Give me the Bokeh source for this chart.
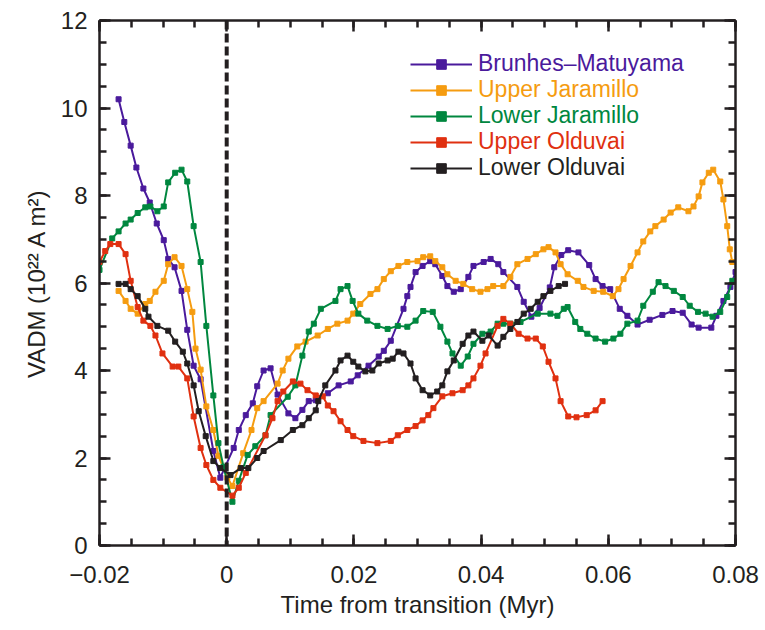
from bokeh.plotting import figure
from bokeh.models import (Span, Legend, LegendItem, LinearAxis, SingleIntervalTicker,
                          CustomJSTickFormatter, Range1d)
from bokeh.embed import file_html
from bokeh.resources import INLINE

# ---------------- data ----------------
series_names = ["Brunhes–Matuyama", "Upper Jaramillo", "Lower Jaramillo", "Upper Olduvai", "Lower Olduvai"]
series_colors = ["#4a1a9c", "#f59c10", "#00873f", "#e03010", "#231f20"]

bm_x = [-0.0170, -0.0161, -0.0151, -0.0142, -0.0131, -0.0121, -0.0110, -0.0099, -0.0092, -0.0082,
        -0.0071, -0.0062, -0.0052, -0.0041, -0.0021, -0.0010, 0.0011, 0.0019, 0.0030, 0.0041,
        0.0048, 0.0058, 0.0069, 0.0080, 0.0097, 0.0108, 0.0119, 0.0129, 0.0140, 0.0159,
        0.0176, 0.0195, 0.0206, 0.0223, 0.0239, 0.0247, 0.0258, 0.0278, 0.0284, 0.0289,
        0.0297, 0.0308, 0.0320, 0.0328, 0.0339, 0.0347, 0.0357, 0.0368, 0.0380, 0.0388,
        0.0404, 0.0415, 0.0427, 0.0435, 0.0457, 0.0467, 0.0479, 0.0492, 0.0508, 0.0515,
        0.0526, 0.0537, 0.0553, 0.0570, 0.0580, 0.0591, 0.0603, 0.0618, 0.0630, 0.0646,
        0.0665, 0.0685, 0.0701, 0.0717, 0.0731, 0.0742, 0.0762, 0.0770, 0.0781, 0.0792, 0.0800]
bm_y = [10.2, 9.68, 9.14, 8.64, 8.16, 7.84, 7.36, 6.98, 6.55, 6.36,
        5.82, 4.93, 4.11, 3.80, 2.16, 1.55, 2.23, 2.64, 2.98, 3.25,
        3.64, 4.00, 4.05, 3.45, 3.02, 2.91, 3.10, 3.30, 3.32, 3.48,
        3.66, 3.75, 3.89, 4.11, 4.32, 4.45, 4.68, 5.41, 5.70, 5.91,
        6.25, 6.39, 6.50, 6.43, 6.16, 5.93, 5.80, 5.86, 6.14, 6.39,
        6.48, 6.55, 6.43, 6.25, 5.91, 5.57, 5.23, 5.43, 5.90, 6.36,
        6.64, 6.75, 6.70, 6.41, 6.09, 5.93, 5.86, 5.41, 5.25, 5.05,
        5.16, 5.27, 5.36, 5.32, 5.05, 4.98, 4.98, 5.25, 5.59, 5.91, 6.25]

uj_x = [-0.0170, -0.0159, -0.0151, -0.0140, -0.0128, -0.0121, -0.0112, -0.0099, -0.0092, -0.0082,
        -0.0071, -0.0062, -0.0054, -0.0049, -0.0041, -0.0032, -0.0021, -0.0013, 0.0001, 0.0009,
        0.0026, 0.0039, 0.0048, 0.0058, 0.0080, 0.0088, 0.0097, 0.0111, 0.0124, 0.0143,
        0.0159, 0.0174, 0.0190, 0.0199, 0.0210, 0.0226, 0.0237, 0.0247, 0.0258, 0.0270,
        0.0284, 0.0300, 0.0309, 0.0320, 0.0328, 0.0339, 0.0347, 0.0360, 0.0372, 0.0386,
        0.0399, 0.0410, 0.0419, 0.0435, 0.0446, 0.0457, 0.0473, 0.0486, 0.0498, 0.0506,
        0.0517, 0.0525, 0.0536, 0.0552, 0.0561, 0.0577, 0.0592, 0.0607, 0.0616, 0.0624,
        0.0635, 0.0646, 0.0655, 0.0666, 0.0674, 0.0687, 0.0698, 0.0710, 0.0726, 0.0734,
        0.0742, 0.0748, 0.0758, 0.0765, 0.0776, 0.0781, 0.0787, 0.0791, 0.0795]
uj_y = [5.82, 5.59, 5.41, 5.30, 5.52, 5.59, 5.80, 6.05, 6.43, 6.59,
        6.39, 5.86, 5.34, 4.50, 4.02, 3.18, 2.64, 2.05, 1.55, 1.36,
        2.11, 2.64, 3.14, 3.30, 3.70, 4.00, 4.27, 4.55, 4.66, 4.80,
        4.95, 5.07, 5.14, 5.30, 5.52, 5.75, 5.86, 6.09, 6.27, 6.39,
        6.48, 6.50, 6.59, 6.61, 6.50, 6.36, 6.20, 6.05, 5.98, 5.86,
        5.80, 5.86, 5.93, 5.93, 6.14, 6.43, 6.55, 6.66, 6.77, 6.82,
        6.70, 6.43, 6.20, 6.05, 5.91, 5.82, 5.80, 5.70, 5.86, 6.09,
        6.39, 6.70, 6.95, 7.18, 7.30, 7.45, 7.61, 7.73, 7.64, 7.75,
        7.98, 8.30, 8.52, 8.59, 8.32, 7.91, 7.30, 6.77, 6.48]

lj_x = [-0.0200, -0.0180, -0.0170, -0.0159, -0.0151, -0.0140, -0.0128, -0.0120, -0.0109, -0.0099,
        -0.0092, -0.0081, -0.0071, -0.0062, -0.0052, -0.0041, -0.0032, -0.0021, -0.0013, -0.0005,
        0.0009, 0.0019, 0.0033, 0.0045, 0.0061, 0.0069, 0.0096, 0.0108, 0.0119, 0.0129,
        0.0137, 0.0148, 0.0171, 0.0179, 0.0190, 0.0198, 0.0207, 0.0221, 0.0237, 0.0253,
        0.0269, 0.0284, 0.0297, 0.0309, 0.0324, 0.0336, 0.0347, 0.0355, 0.0368, 0.0379,
        0.0388, 0.0402, 0.0415, 0.0426, 0.0435, 0.0446, 0.0462, 0.0489, 0.0509, 0.0520,
        0.0530, 0.0536, 0.0548, 0.0556, 0.0567, 0.0580, 0.0595, 0.0608, 0.0619, 0.0630,
        0.0646, 0.0655, 0.0670, 0.0679, 0.0690, 0.0703, 0.0717, 0.0728, 0.0741, 0.0753,
        0.0764, 0.0776, 0.0787, 0.0795]
lj_y = [6.30, 7.02, 7.18, 7.36, 7.45, 7.60, 7.73, 7.75, 7.64, 7.75,
        8.30, 8.52, 8.59, 8.32, 7.30, 6.48, 5.02, 3.43, 2.34, 1.80,
        1.00, 1.48, 2.07, 2.27, 2.52, 2.98, 3.40, 3.66, 4.34, 4.89,
        5.07, 5.41, 5.59, 5.86, 5.93, 5.59, 5.30, 5.14, 5.02, 4.95,
        5.02, 5.00, 5.14, 5.36, 5.34, 5.00, 4.66, 4.39, 4.11, 4.32,
        4.61, 4.84, 4.89, 5.07, 5.07, 5.07, 5.11, 5.30, 5.30, 5.25,
        5.41, 5.45, 5.11, 4.95, 4.84, 4.73, 4.66, 4.73, 4.84, 5.07,
        5.14, 5.48, 5.80, 6.02, 5.93, 5.82, 5.68, 5.48, 5.34, 5.30,
        5.23, 5.34, 5.68, 6.05]

uo_x = [-0.0200, -0.0191, -0.0183, -0.0170, -0.0159, -0.0151, -0.0140, -0.0131, -0.0120, -0.0112,
        -0.0101, -0.0085, -0.0076, -0.0062, -0.0052, -0.0041, -0.0032, -0.0021, -0.0010, 0.0009,
        0.0019, 0.0030, 0.0061, 0.0072, 0.0080, 0.0089, 0.0104, 0.0116, 0.0127, 0.0140,
        0.0151, 0.0159, 0.0168, 0.0179, 0.0190, 0.0199, 0.0215, 0.0237, 0.0258, 0.0269,
        0.0284, 0.0297, 0.0308, 0.0317, 0.0325, 0.0339, 0.0355, 0.0371, 0.0380, 0.0388,
        0.0399, 0.0407, 0.0426, 0.0435, 0.0446, 0.0459, 0.0473, 0.0486, 0.0497, 0.0506,
        0.0517, 0.0525, 0.0537, 0.0550, 0.0566, 0.0580, 0.0591]
uo_y = [6.48, 6.73, 6.89, 6.89, 6.66, 6.05, 5.45, 5.14, 5.02, 4.80,
        4.39, 4.09, 4.09, 3.82, 2.95, 2.23, 1.84, 1.50, 1.32, 1.14,
        1.32, 1.66, 2.52, 2.91, 3.30, 3.52, 3.75, 3.70, 3.55, 3.43,
        3.41, 3.20, 3.07, 2.84, 2.64, 2.50, 2.39, 2.34, 2.39, 2.52,
        2.64, 2.73, 2.86, 2.98, 3.14, 3.41, 3.48, 3.55, 3.66, 3.82,
        4.11, 4.39, 5.02, 5.18, 5.07, 4.84, 4.73, 4.73, 4.55, 4.20,
        3.82, 3.30, 2.95, 2.93, 2.98, 3.09, 3.30]

lo_x = [-0.0170, -0.0159, -0.0151, -0.0140, -0.0128, -0.0123, -0.0109, -0.0092, -0.0081, -0.0069,
        -0.0062, -0.0052, -0.0044, -0.0033, -0.0021, -0.0010, 0.0006, 0.0022, 0.0034, 0.0048,
        0.0058, 0.0085, 0.0104, 0.0119, 0.0129, 0.0140, 0.0144, 0.0155, 0.0171, 0.0179,
        0.0190, 0.0199, 0.0207, 0.0218, 0.0229, 0.0239, 0.0253, 0.0261, 0.0270, 0.0278,
        0.0289, 0.0297, 0.0308, 0.0320, 0.0331, 0.0339, 0.0347, 0.0357, 0.0371, 0.0380,
        0.0388, 0.0402, 0.0412, 0.0426, 0.0435, 0.0446, 0.0457, 0.0467, 0.0478, 0.0489,
        0.0498, 0.0509, 0.0522, 0.0532]
lo_y = [5.98, 5.98, 5.86, 5.70, 5.41, 5.23, 5.02, 4.91, 4.66, 4.43,
        4.16, 3.66, 3.07, 2.50, 1.93, 1.77, 1.61, 1.77, 1.77, 2.00,
        2.16, 2.41, 2.64, 2.75, 2.91, 3.09, 3.30, 3.66, 4.00, 4.23,
        4.34, 4.20, 4.09, 3.98, 4.00, 4.16, 4.23, 4.27, 4.43, 4.39,
        4.16, 3.82, 3.55, 3.43, 3.52, 3.66, 3.98, 4.23, 4.61, 4.80,
        4.89, 4.68, 4.80, 4.57, 4.77, 4.95, 5.11, 5.30, 5.41, 5.57,
        5.70, 5.82, 5.93, 5.98]

x_ticks = [-0.02, 0, 0.02, 0.04, 0.06, 0.08]
x_tick_labels = ["−0.02", "0", "0.02", "0.04", "0.06", "0.08"]

all_x = [bm_x, uj_x, lj_x, uo_x, lo_x]
all_y = [bm_y, uj_y, lj_y, uo_y, lo_y]

# ---------------- figure ----------------
INK = "#231f20"
FONT = "Liberation Sans"
FS = "24px"
LEG_FS = "23px"

p = figure(width=760, height=620, x_range=Range1d(-0.02, 0.08), y_range=Range1d(0, 12),
           output_backend="svg", toolbar_location=None,
           min_border_left=99, min_border_right=25, min_border_top=20, min_border_bottom=72)
p.xgrid.visible = False
p.ygrid.visible = False
p.outline_line_color = None
p.background_fill_color = "white"
p.border_fill_color = "white"


def style_axis(ax, ticker, labels=True):
    ax.ticker = ticker
    ax.axis_line_color = INK
    ax.axis_line_width = 2.5
    ax.major_tick_line_color = INK
    ax.minor_tick_line_color = INK
    ax.major_tick_line_width = 2.5
    ax.minor_tick_line_width = 2.5
    ax.major_tick_in = 11
    ax.major_tick_out = 0
    ax.minor_tick_in = 7
    ax.minor_tick_out = 0
    ax.major_label_text_font = FONT
    ax.major_label_text_color = INK
    ax.major_label_text_font_size = FS
    ax.axis_label_text_font = FONT
    ax.axis_label_text_font_size = FS
    ax.axis_label_text_font_style = "normal"
    ax.axis_label_text_color = INK
    if not labels:
        ax.formatter = CustomJSTickFormatter(code="return ''")
        ax.major_label_text_font_size = "0px"
        ax.major_label_standoff = 0


xtick = SingleIntervalTicker(interval=0.02, num_minor_ticks=4)
ytick = SingleIntervalTicker(interval=2, num_minor_ticks=4)

xa = p.xaxis[0]
style_axis(xa, xtick)
xa.axis_label = "Time from transition (Myr)"
xa.major_label_overrides = {t: l for t, l in zip(x_ticks, x_tick_labels)}
xa.major_label_standoff = 20
xa.axis_label_standoff = 5

ya = p.yaxis[0]
style_axis(ya, ytick)
ya.axis_label = "VADM (10²² A m²)"
ya.major_label_standoff = 12
ya.axis_label_standoff = 8

top = LinearAxis()
style_axis(top, SingleIntervalTicker(interval=0.02, num_minor_ticks=4), labels=False)
p.add_layout(top, "above")
right = LinearAxis()
style_axis(right, SingleIntervalTicker(interval=2, num_minor_ticks=4), labels=False)
p.add_layout(right, "right")

p.add_layout(Span(location=0, dimension="height", line_color=INK, line_width=4, line_dash="9 4"))

renderers = []
for xs, ys, c in zip(all_x, all_y, series_colors):
    lr = p.line(xs, ys, line_color=c, line_width=2)
    sr = p.scatter(xs, ys, marker="square", size=5, fill_color=c, line_color=c)
    renderers.append((lr, sr))

# one legend per entry so that each label takes its series colour
row_bottoms = [468, 442, 416, 390, 364]
for (lr, sr), name, c, yb in zip(renderers, series_names, series_colors, row_bottoms):
    leg = Legend(items=[LegendItem(label=name, renderers=[lr, sr])],
                 location=(311, yb), padding=0, margin=0, spacing=0,
                 glyph_width=62, glyph_height=24, label_height=24, label_standoff=6,
                 label_text_font=FONT, label_text_font_size=LEG_FS, label_text_color=c,
                 border_line_color=None, background_fill_alpha=0)
    p.add_layout(leg)

open("out.html", "w").write(file_html(p, INLINE))
